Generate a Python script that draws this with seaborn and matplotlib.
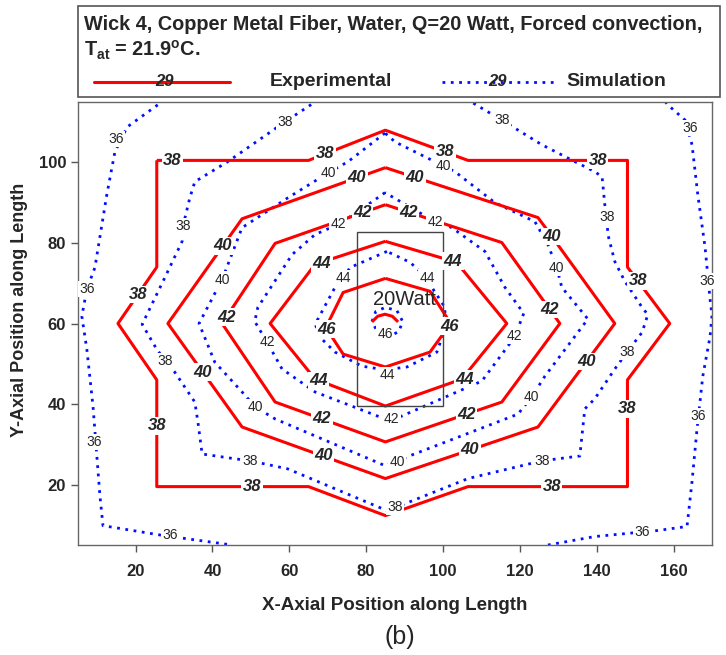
import matplotlib
matplotlib.use("Agg")
import matplotlib.pyplot as plt
from matplotlib.patches import Rectangle
import pandas as pd
import seaborn as sns

# ---------------------------------------------------------------- data
# Experimental isotherms (deg C) as polylines in position units
exp_38 = [(25.5, 100.5), (65, 100.5), (85, 108), (106.5, 100.5), (148, 100.5), (148, 74),
          (159, 60), (148, 46), (148, 19.5), (106.5, 19.5), (85, 12.3), (65, 19.5),
          (25.5, 19.5), (25.5, 46), (15.4, 60), (25.5, 74), (25.5, 100.5)]
exp_40 = [(85, 98.7), (124.7, 86.3), (126.5, 84), (144.7, 60), (124.7, 34.3), (85, 21.5),
          (47.7, 34.3), (28.4, 60), (47.7, 86), (85, 98.7)]
exp_42 = [(85, 89.5), (115.3, 80.1), (130.4, 60), (115.3, 40.5), (85, 30.6), (56.3, 40.5),
          (42.5, 60), (56.3, 79.9), (85, 89.5)]
exp_44 = [(85, 80.4), (103.5, 75.2), (116.6, 60), (104.9, 46.2), (85, 39.5), (66.7, 46.2),
          (55, 60), (66.7, 74.7), (85, 80.4)]
exp_46 = [(85, 71.2), (96.6, 68), (102, 60), (96.6, 52.9), (85, 49.2), (74, 52.4),
          (69.5, 59), (74, 67.7), (85, 71.2)]
exp_48 = [(81.5, 60.4), (83, 61.8), (84.9, 62.3), (86.8, 61.8), (88.3, 60.4)]

exp_38_labels = [(29.5, 100.5), (69.3, 102.1), (100.5, 102.6), (140.3, 100.5), (150.7, 70.6),
                 (20.6, 67.2), (25.5, 34.6), (50.3, 19.5), (148, 38.8), (128.3, 19.5)]
exp_40_labels = [(77.6, 96.2), (42.7, 79.3), (92.7, 96.3), (128.3, 81.6), (37.5, 47.9),
                 (68.8, 27.1), (137.4, 50.6), (107, 28.6)]
exp_42_labels = [(43.6, 61.6), (68.5, 36.3), (106.2, 37.5), (127.8, 63.5), (79.0, 87.6), (91.0, 87.6)]
exp_44_labels = [(68.5, 74.9), (102.6, 75.5), (67.5, 45.8), (105.7, 46.2)]
exp_46_labels = [(69.8, 58.6), (101.8, 59.3)]

# Simulated isotherms (deg C)
sim_36_left = [(27.5, 115.5), (17.8, 108.8), (14.6, 102.6), (12.5, 92), (9.4, 73.9), (7.3, 68.5),
               (6, 61.8), (7.3, 53.6), (8.9, 39.5), (10.7, 17.3), (11.5, 9.8), (26.9, 7.4),
               (45.1, 5.0)]
sim_36_right = [(127.3, 5.0), (139.5, 7.1), (155.9, 8.6), (163.5, 9.6), (164.8, 20.7),
                (166.1, 33.8), (167.6, 46.9), (169.5, 56.8), (170, 62), (169.5, 66),
                (168.2, 78.9), (166.3, 92), (164.8, 104.4), (163, 110.5), (158.5, 114.3),
                (157.5, 115.5)]
sim_38 = [(67.5, 115.5), (58.9, 110.1), (44, 100.2), (35.4, 95.2), (34.1, 91.2), (32.3, 84.1),
          (32.1, 80.4), (27.6, 71.4), (21.7, 59.8), (25, 54.4), (27.6, 50.7), (30.2, 47.9),
          (35.4, 40.5), (36.2, 35.6), (37.3, 27.6), (45.9, 26.4), (49.8, 25.9), (59.6, 23.9),
          (85.5, 13.5), (106.5, 21.5), (120.5, 24.7), (125.7, 25.9), (135.6, 27.1),
          (136.9, 38.8), (139.5, 41.3), (144.7, 48.7), (147.9, 52.9), (151.8, 57.8),
          (153.3, 62.2), (151.8, 64), (147.3, 70.5), (144.7, 75.4), (142.9, 82.1),
          (142.6, 86.5), (142.1, 89.5), (141.4, 96.4), (139.5, 97.7), (134.3, 100.2),
          (125.7, 104.4), (115.3, 110.5), (106.5, 115.5)]
sim_40 = [(84.9, 107.3), (75.3, 100.2), (70.1, 97.4), (59.6, 91.2), (47.7, 83.8), (42.5, 70.9),
          (36.5, 60), (40.6, 50.4), (47.7, 43), (51.1, 39.3), (56.3, 36.3), (84.9, 24.7),
          (89.3, 26.4), (119.5, 37.5), (123.1, 41.8), (126.5, 46.9), (137.7, 61.1),
          (130.9, 69), (129.6, 73.9), (127.3, 79.6), (123.9, 85.3), (113.5, 90),
          (103.1, 97.7), (87.5, 105.1), (84.9, 107.3)]
sim_42 = [(84.9, 92.5), (77.9, 87.8), (72.7, 84.6), (66.7, 82.1), (60.7, 77.1), (51.8, 64),
          (51, 60.5), (54.2, 55.4), (58.1, 48.7), (66.7, 43), (84.9, 36.3), (88, 36.5),
          (110.1, 45.7), (116.9, 54.4), (118.7, 56.8), (121, 62.5), (116.1, 69),
          (110.9, 77.9), (102.3, 83.8), (97.9, 85.3), (84.9, 92.5)]
sim_44 = [(85.4, 77.9), (75.8, 73.9), (74, 71.2), (71.9, 69), (66.7, 59.8), (68.5, 56.1),
          (71.9, 52.9), (78.9, 49.4), (84.9, 48.5), (90.6, 49.2), (98.4, 52.9), (100.5, 58.6),
          (100.5, 64), (96.6, 69.7), (95.8, 71.4), (91.4, 75.2), (85.4, 77.9)]
sim_46 = [(81.5, 60.5), (82.5, 63), (85, 64), (88, 63.2), (89.5, 60.5), (88.5, 58),
          (86, 56.8), (83, 57.8), (81.5, 60.5)]

sim_36_labels = [(14.9, 105.8), (7.3, 68.5), (9.3, 30.6), (28.9, 7.4), (151.8, 8.3),
                 (166.4, 37.1), (168.7, 70.5), (164.3, 108.6)]
sim_38_labels = [(58.9, 110.1), (32.3, 84.1), (27.6, 50.7), (49.8, 25.9), (87.5, 14.5),
                 (125.7, 25.9), (147.9, 52.9), (142.6, 86.5), (115.3, 110.5)]
sim_40_labels = [(70.1, 97.4), (42.5, 70.9), (51.1, 39.3), (88, 25.7), (123.1, 41.8),
                 (129.6, 73.9), (100, 99.2)]
sim_42_labels = [(72.7, 84.6), (54.2, 55.4), (86.7, 36.3), (118.7, 56.8), (97.9, 85.3)]
sim_44_labels = [(74, 71.2), (85.5, 47.3), (95.8, 71.4)]
sim_46_labels = [(84.9, 57.3)]

experimental = [(38, exp_38, exp_38_labels), (40, exp_40, exp_40_labels),
                (42, exp_42, exp_42_labels), (44, exp_44, exp_44_labels),
                (46, exp_46, exp_46_labels), (48, exp_48, [])]
simulation = [(36, sim_36_left, sim_36_labels[:4]), (36, sim_36_right, sim_36_labels[4:]),
              (38, sim_38, sim_38_labels), (40, sim_40, sim_40_labels),
              (42, sim_42, sim_42_labels), (44, sim_44, sim_44_labels),
              (46, sim_46, sim_46_labels)]

heater_x = (77.6, 100.0)
heater_y = (39.5, 82.6)
heater_text = "20Watt"

x_ticks = [20, 40, 60, 80, 100, 120, 140, 160]
y_ticks = [20, 40, 60, 80, 100]

# ---------------------------------------------------------------- style
sns.set_style("ticks")
plt.rcParams["font.family"] = ["Liberation Sans", "DejaVu Sans"]
plt.rcParams["mathtext.fontset"] = "custom"
plt.rcParams["mathtext.rm"] = "Liberation Sans:bold"
plt.rcParams["mathtext.it"] = "Liberation Sans:bold"
plt.rcParams["mathtext.bf"] = "Liberation Sans:bold"

RED = "#ff0000"
BLUE = "#0010ff"
DOT = (0, (1, 2))

W, H = 726, 655
fig = plt.figure(figsize=(W / 100, H / 100), dpi=100)
ax = fig.add_axes([78 / W, 1 - 545 / H, (712 - 78) / W, (545 - 102) / H])


def draw_line(pts, color, ls, lw, z):
    df = pd.DataFrame(pts, columns=["x", "y"])
    sns.lineplot(data=df, x="x", y="y", sort=False, estimator=None, ax=ax,
                 color=color, linestyle=ls, linewidth=lw, zorder=z,
                 dash_capstyle="butt", solid_capstyle="butt")


def put_label(x, y, level, bold, z):
    if bold:
        ax.text(x, y, str(level), ha="center", va="center", fontsize=12,
                fontweight="bold", fontstyle="italic", zorder=z,
                bbox=dict(boxstyle="square,pad=0.08", fc="white", ec="none"))
    else:
        ax.text(x, y, str(level), ha="center", va="center", fontsize=10,
                zorder=z,
                bbox=dict(boxstyle="square,pad=0.08", fc="white", ec="none"))


for level, pts, labels in simulation:
    draw_line(pts, BLUE, DOT, 2.0, 2)
for level, pts, labels in experimental:
    draw_line(pts, RED, "-", 2.2, 3)
for level, pts, labels in experimental:
    for (lx, ly) in labels:
        put_label(lx, ly, level, True, 5)
for level, pts, labels in simulation:
    for (lx, ly) in labels:
        put_label(lx, ly, level, False, 6)

ax.add_patch(Rectangle((heater_x[0], heater_y[0]), heater_x[1] - heater_x[0],
                       heater_y[1] - heater_y[0], fill=False, ec="#444444", lw=1.0, zorder=4))
ax.text((heater_x[0] + heater_x[1]) / 2 + 1.3, 66, heater_text, ha="center", va="center",
        fontsize=14.5, zorder=7)

ax.set_xlim(5, 170)
ax.set_ylim(5, 115)
ax.set_xticks(x_ticks)
ax.set_yticks(y_ticks)
ax.set_xlabel("")
ax.set_ylabel("")
ax.tick_params(axis="x", pad=9)
ax.tick_params(direction="out", length=5, width=1, color="#555555", labelsize=12)
for lab in ax.get_xticklabels() + ax.get_yticklabels():
    lab.set_fontweight("bold")
for sp in ax.spines.values():
    sp.set_visible(True)
    sp.set_color("#666666")
    sp.set_linewidth(1.0)

fig.text(395 / W, 1 - 605 / H, "X-Axial Position along Length", ha="center", va="center",
         fontsize=13.5, fontweight="bold")
fig.text(20 / W, 1 - 310 / H, "Y-Axial Position along Length", ha="center", va="center",
         rotation=90, fontsize=13, fontweight="bold")
fig.text(400 / W, 1 - 637 / H, "(b)", ha="center", va="center", fontsize=18)

# title / legend box
fig.add_artist(Rectangle((78 / W, 1 - 97 / H), (720 - 78) / W, (97 - 6) / H,
                         transform=fig.transFigure, fill=False, ec="#555555", lw=1.2))
fig.text(84 / W, 1 - 24 / H, "Wick 4, Copper Metal Fiber, Water, Q=20 Watt, Forced convection,",
         ha="left", va="center", fontsize=14.3, fontweight="bold")
fig.text(84 / W, 1 - 50 / H, r"T$_{\mathrm{at}}$ = 21.9$^{\mathrm{o}}$C.",
         ha="left", va="center", fontsize=14.3, fontweight="bold")

fig.add_artist(plt.Line2D([94 / W, 230 / W], [1 - 82 / H] * 2, transform=fig.transFigure,
                          color=RED, lw=2.2))
fig.text(165 / W, 1 - 82 / H, "29", ha="center", va="center", fontsize=12,
         fontweight="bold", fontstyle="italic")
fig.text(270 / W, 1 - 81 / H, "Experimental", ha="left", va="center", fontsize=14,
         fontweight="bold")
fig.add_artist(plt.Line2D([442 / W, 555 / W], [1 - 82 / H] * 2, transform=fig.transFigure,
                          color=BLUE, lw=2.0, linestyle=DOT, dash_capstyle="butt"))
fig.text(498 / W, 1 - 82 / H, "29", ha="center", va="center", fontsize=12,
         fontweight="bold", fontstyle="italic")
fig.text(566 / W, 1 - 81 / H, "Simulation", ha="left", va="center", fontsize=14,
         fontweight="bold")

fig.savefig("out.png", dpi=100)
